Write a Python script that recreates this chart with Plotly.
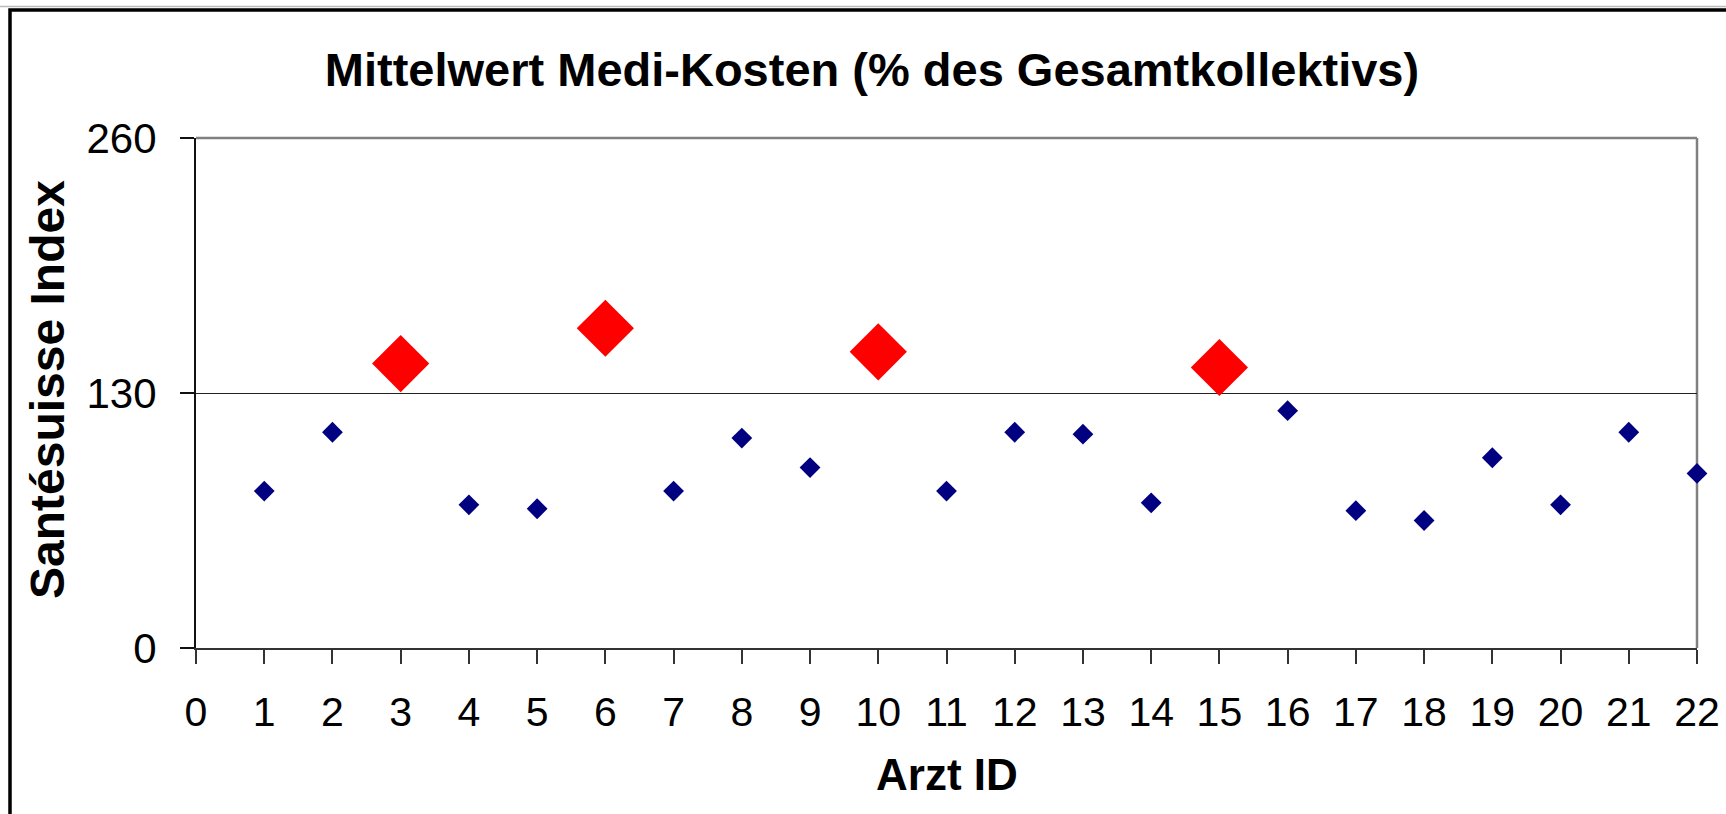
import plotly.graph_objects as go

# ---- data ----
arzt_ids = list(range(1, 23))
index_values = [80, 110, 145, 73, 71, 163, 80, 107, 92, 151, 80, 110,
                109, 74, 143, 121, 70, 65, 97, 73, 110, 89]
highlight_ids = [3, 6, 10, 15]
x_ticks = list(range(0, 23))
y_ticks = [0, 130, 260]

title_text = "Mittelwert Medi-Kosten (% des Gesamtkollektivs)"
x_title = "Arzt ID"
y_title = "Santésuisse Index"

# ---- layout geometry (pixels) ----
W, H = 1726, 814
L, R, T, B = 196, 1697, 138, 648
pw, ph = R - L, B - T


def px_x(x):
    return (x - L) / pw


def px_y(y):
    return (B - y) / ph


FONT = "Liberation Sans, Arial, Helvetica, sans-serif"

normal_x = [i for i in arzt_ids if i not in highlight_ids]
normal_y = [index_values[arzt_ids.index(i)] for i in normal_x]
hi_y = [index_values[arzt_ids.index(i)] for i in highlight_ids]

fig = go.Figure()
fig.add_trace(go.Scatter(
    x=normal_x, y=normal_y, mode="markers",
    marker=dict(symbol="diamond", size=16, color="#000080", line=dict(width=0)),
    showlegend=False, cliponaxis=False,
))
fig.add_trace(go.Scatter(
    x=highlight_ids, y=hi_y, mode="markers",
    marker=dict(symbol="diamond", size=44, color="#FF0000", line=dict(width=0)),
    showlegend=False, cliponaxis=False,
))

fig.update_layout(
    width=W, height=H,
    margin=dict(l=L, r=W - R, t=T, b=H - B, pad=0, autoexpand=False),
    paper_bgcolor="white", plot_bgcolor="white",
    font=dict(family=FONT, color="black"),
    title=dict(text="<b>" + title_text + "</b>", font=dict(size=47, family=FONT, color="black"),
               x=872 / W, xanchor="center", xref="container",
               y=1 - 70 / H, yanchor="middle", yref="container"),
    xaxis=dict(range=[0, 22], tickmode="array", tickvals=x_ticks,
               ticktext=[str(v) for v in x_ticks],
               showgrid=False, zeroline=False, automargin=False,
               showline=True, linecolor="#333333", linewidth=2,
               ticks="outside", ticklen=14, tickwidth=1.5, tickcolor="#333333",
               tickfont=dict(size=41, family=FONT, color="black"),
               ticklabelstandoff=13),
    yaxis=dict(range=[0, 260], tickmode="array", tickvals=y_ticks,
               showgrid=True, gridcolor="#222222", gridwidth=1.3,
               zeroline=False, automargin=False,
               showline=True, linecolor="#111111", linewidth=2,
               ticks="outside", ticklen=14, tickwidth=1.5, tickcolor="#111111",
               tickfont=dict(size=42, family=FONT, color="black"),
               ticklabelstandoff=15),
    annotations=[
        dict(text="<b>" + x_title + "</b>", xref="paper", yref="paper",
             x=0.5, y=px_y(774), xanchor="center", yanchor="middle",
             showarrow=False, font=dict(size=44, family=FONT, color="black")),
        dict(text="<b>" + y_title + "</b>", xref="paper", yref="paper",
             x=px_x(47), y=px_y(390), xanchor="center", yanchor="middle",
             textangle=-90, showarrow=False,
             font=dict(size=48, family=FONT, color="black")),
    ],
    shapes=[
        # gray top & right plot borders
        dict(type="line", xref="paper", yref="paper", x0=0, x1=1, y0=1, y1=1,
             line=dict(color="#808080", width=2.5), layer="above"),
        dict(type="line", xref="paper", yref="paper", x0=1, x1=1, y0=0, y1=1,
             line=dict(color="#808080", width=2.5), layer="below"),
        # outer black chart border (extends beyond the picture)
        dict(type="rect", xref="paper", yref="paper",
             x0=px_x(10), x1=px_x(1740), y0=px_y(10), y1=px_y(830),
             line=dict(color="black", width=3.5), fillcolor="rgba(0,0,0,0)"),
        dict(type="line", xref="paper", yref="paper",
             x0=px_x(0), x1=px_x(1740), y0=px_y(6.5), y1=px_y(6.5),
             line=dict(color="#bbbbbb", width=1.5)),
    ],
)

fig.write_html("out.html", config={"displayModeBar": False},
               post_script="document.body.style.margin='0';document.body.style.overflow='hidden';")
